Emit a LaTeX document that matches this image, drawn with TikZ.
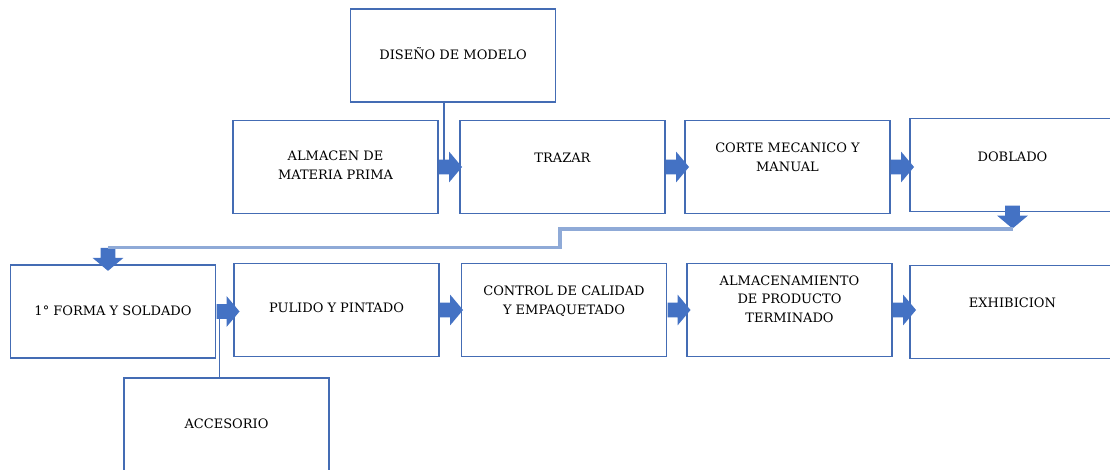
\documentclass[tikz,border=0pt]{standalone}
\usepackage{fontspec}
\setmainfont{DejaVu Serif}
\usepackage{tikz}
\usetikzlibrary{shapes,arrows,positioning,calc}
\definecolor{boxblue}{RGB}{68,108,180}
\definecolor{arrowblue}{RGB}{68,114,196}
\definecolor{linkblue}{RGB}{143,170,215}

\begin{document}
\begin{tikzpicture}[x=0.02cm,y=-0.02cm,
    etapa/.style={draw=boxblue,line width=0.8pt,fill=white,minimum width=4.1cm,minimum height=1.86cm,%
      inner sep=0pt,align=center,font=\fontsize{7.4}{10.5}\selectfont},
    txtup/.style={text depth=#1},
    flecha/.style={single arrow,fill=arrowblue,draw=none,inner sep=0pt,text height=0.14cm,text depth=0.14cm,%
      single arrow head extend=0.16cm,single arrow tip angle=100,minimum height=0.46cm},
    enlace/.style={draw=linkblue,line width=1.8pt},
    guia/.style={draw=boxblue,line width=0.7pt}]
      \clip (0,0) rectangle (1110,470);

      \node[etapa,txtup=2.3pt] (diseno) at (453,55.5) {DISEÑO DE MODELO};
      \node[etapa,txtup=2.3pt] (almacen) at (335.5,167) {ALMACEN DE\\MATERIA PRIMA};
      \node[etapa,txtup=10pt] (trazar) at (562.5,167) {TRAZAR};
      \node[etapa,txtup=11pt] (corte) at (787.5,167) {CORTE MECANICO Y\\MANUAL};
      \node[etapa,txtup=9pt] (doblado) at (1012.5,165) {DOBLADO};

      \node[etapa,txtup=1pt] (forma) at (113,311.5) {1° FORMA Y SOLDADO};
      \node[etapa,txtup=2.3pt] (pulido) at (336.5,310) {PULIDO Y PINTADO};
      \node[etapa,txtup=11pt] (control) at (564,310) {CONTROL DE CALIDAD\\Y EMPAQUETADO};
      \node[etapa,txtup=12.5pt] (almacenam) at (789.5,310) {ALMACENAMIENTO\\DE PRODUCTO\\TERMINADO};
      \node[etapa,txtup=11pt] (exhib) at (1012.5,312) {EXHIBICION};

      \node[etapa,txtup=1pt] (acces) at (226.5,424.5) {ACCESORIO};

      \coordinate (dbase) at ([shift={(-9,0)}]diseno.south);
      \coordinate (abase) at ([shift={(-7,0)}]acces.north);
      \draw[guia] (dbase) -- (dbase |- almacen.center);
      \draw[guia] (abase) -- (abase |- forma.center);

      \node[flecha,anchor=tail] (f1) at (almacen.east) {};
      \node[flecha,anchor=tail] (f2) at (trazar.east) {};
      \node[flecha,anchor=tail] (f3) at (corte.east) {};
      \node[flecha,anchor=tail,rotate=-90] (f4) at ([shift={(0,-7)}]doblado.south) {};
      \node[flecha,anchor=tip,rotate=-90] (f5) at ([shift={(-5,7)}]forma.north) {};
      \node[flecha,anchor=tail] (f6) at (forma.east) {};
      \node[flecha,anchor=tail] (f7) at (pulido.east) {};
      \node[flecha,anchor=tail] (f8) at (control.east) {};
      \node[flecha,anchor=tail] (f9) at (almacenam.east) {};

      \coordinate (escalon) at (560,237);
      \draw[enlace] (f4.tip) -| (escalon) |- (f5.tail);

    \end{tikzpicture}
\end{document}
